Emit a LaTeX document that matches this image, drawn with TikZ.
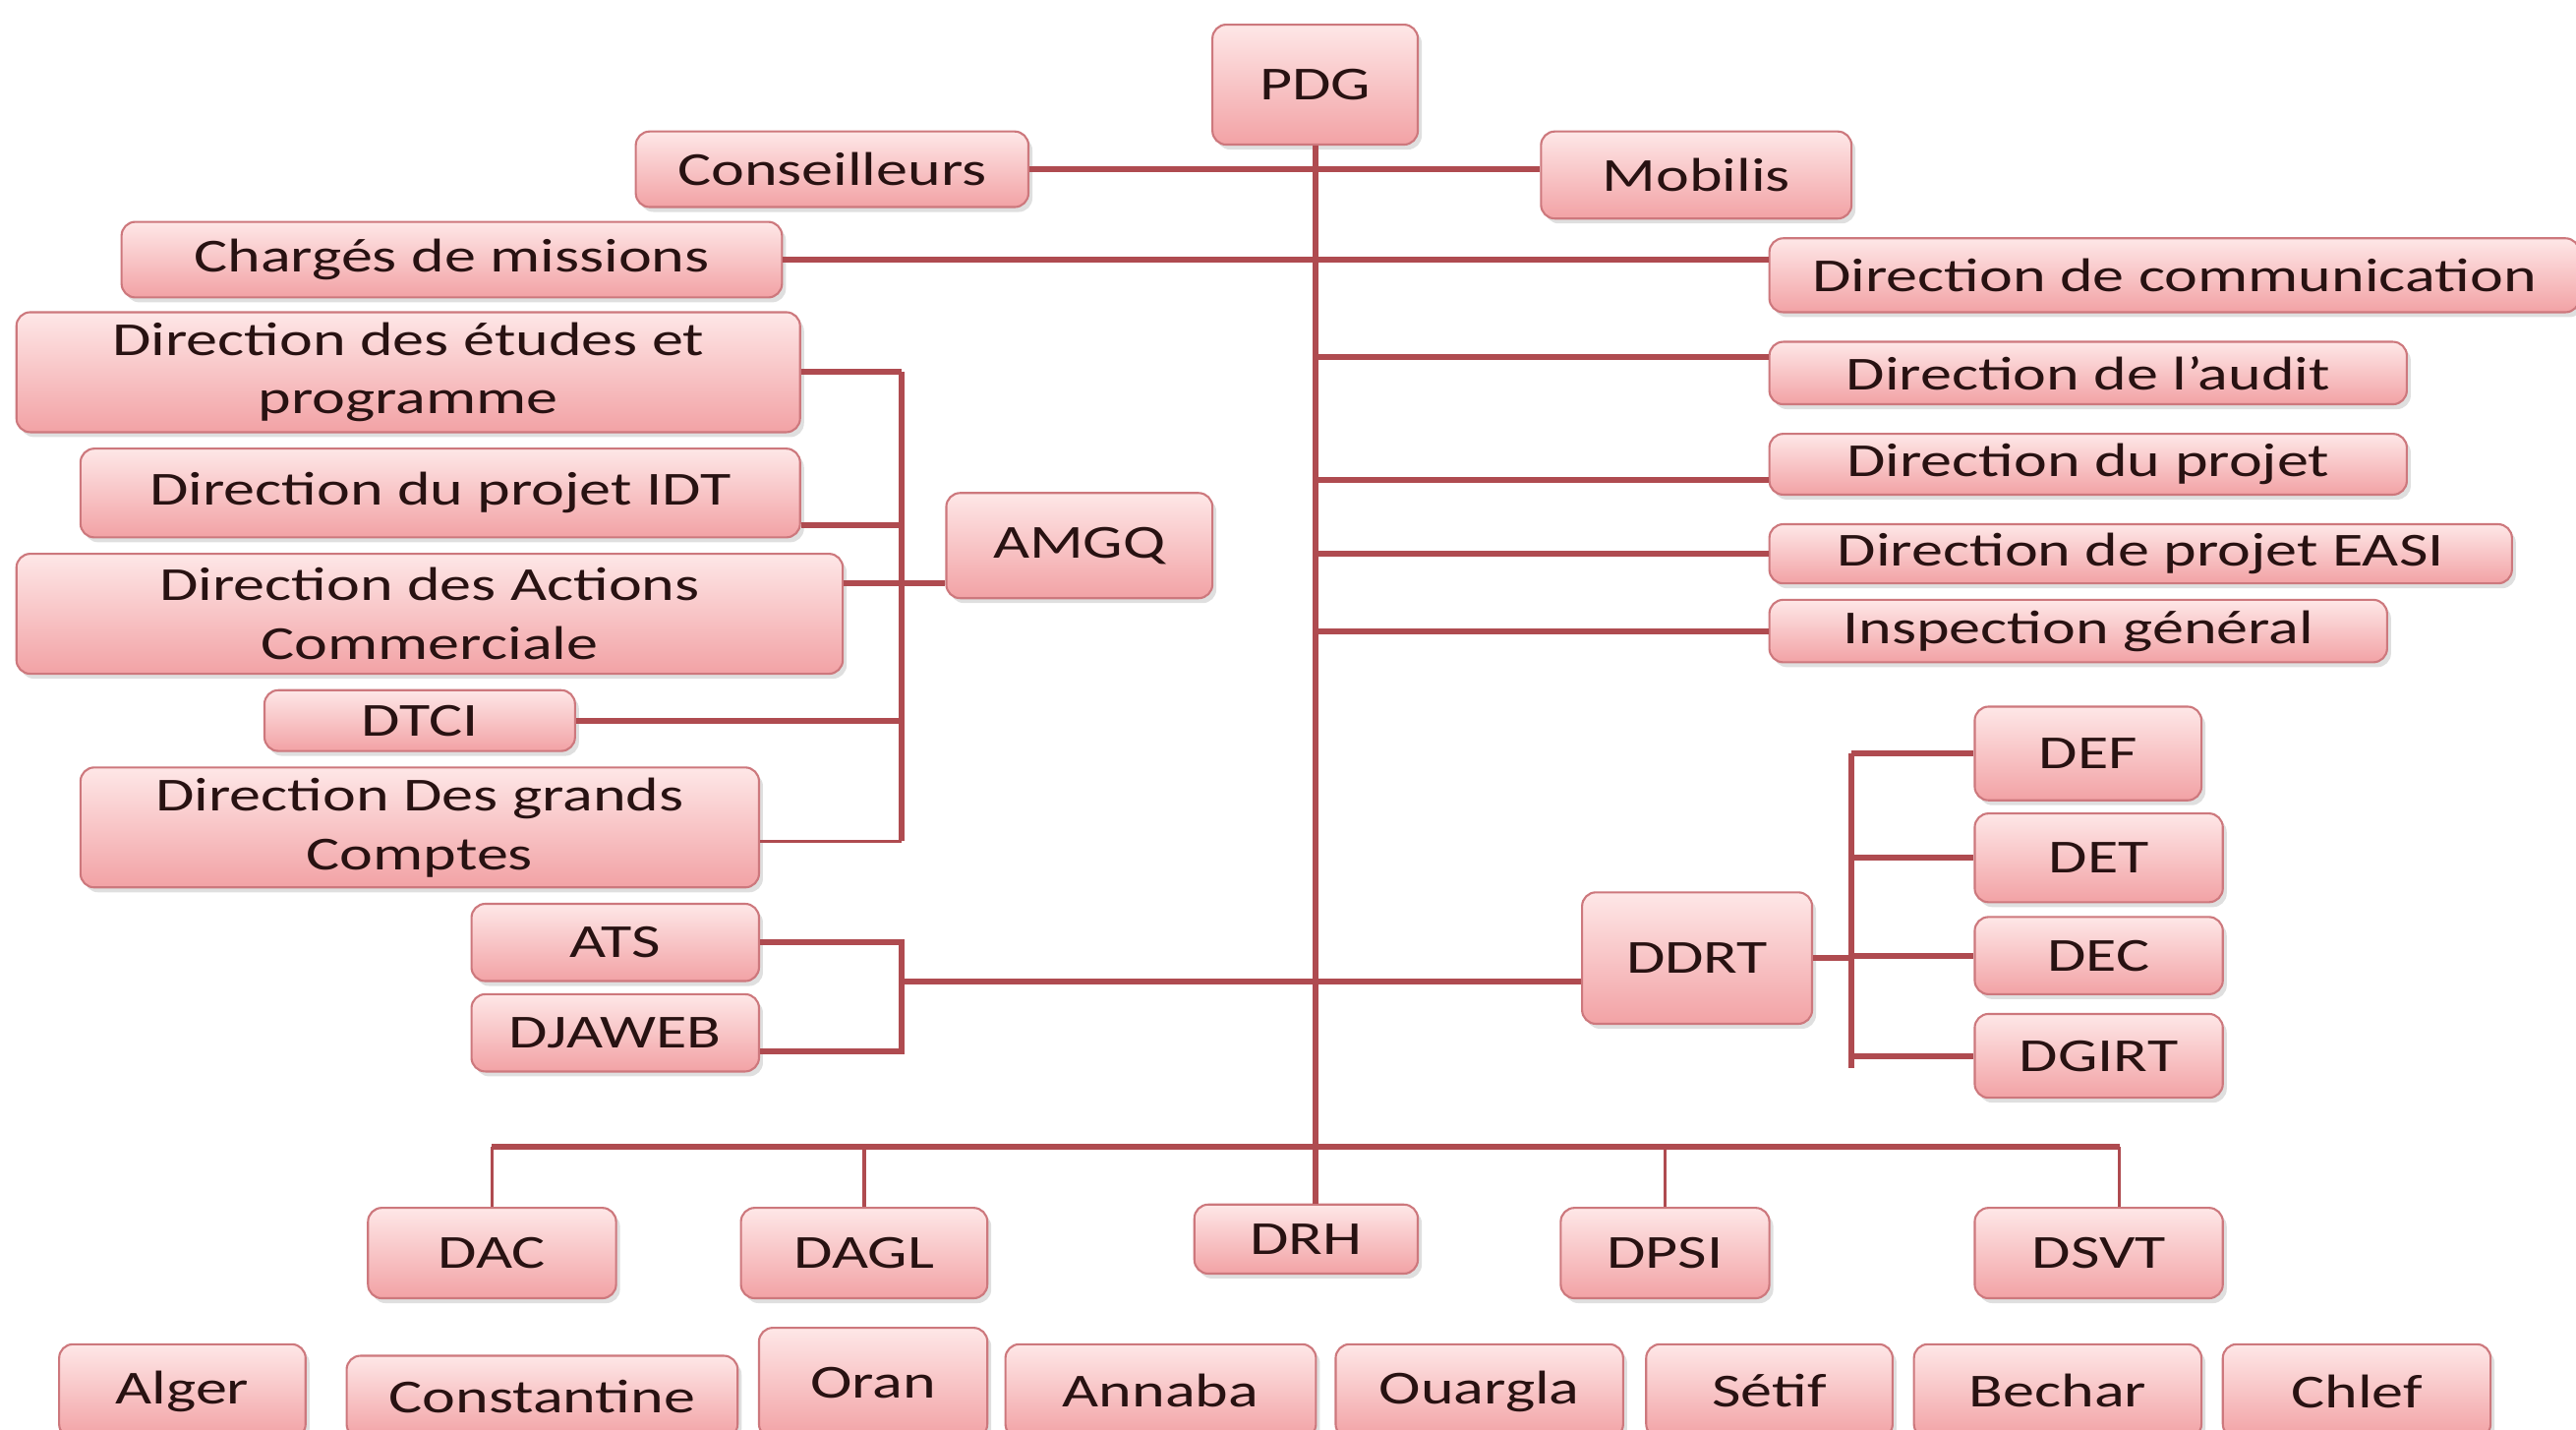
\documentclass[tikz,border=0pt]{standalone}
\usepackage{fontspec}
\setmainfont[FakeStretch=1.33]{Carlito}
\usetikzlibrary{shadows}
\definecolor{linkred}{RGB}{175,75,80}
\definecolor{boxedge}{RGB}{205,120,125}
\definecolor{boxtop}{RGB}{254,231,231}
\definecolor{boxbottom}{RGB}{242,162,165}
\definecolor{boxtext}{RGB}{40,18,18}

\tikzset{
  wh/.style 2 args={minimum width=#1*0.01671cm, minimum height=#2*0.01671cm},
  orgbox/.style={draw=boxedge, line width=0.6pt, rounded corners=4pt,
    top color=boxtop, bottom color=boxbottom, text=boxtext, inner sep=1pt,
    align=center, font=\fontsize{13.7}{17}\selectfont,
    drop shadow={opacity=0.25, shadow xshift=0.04cm, shadow yshift=-0.05cm}},
  link/.style={draw=linkred, line width=1.7pt},
  thinlink/.style={draw=linkred, line width=1pt}
}

\begin{document}
\begin{tikzpicture}[x=0.01671cm,y=-0.01671cm]
	\useasboundingbox (0,0) rectangle (1568,870);
	% top of the chart
	\node[orgbox,wh={125}{73}] (pdg) at (800.5,51.5) {PDG};
	\node[orgbox,wh={239}{46}] (cons) at (506.5,103) {Conseilleurs};
	\node[orgbox,wh={189}{53}] (mob) at (1032.5,106.5) {Mobilis};
	\node[orgbox,wh={402}{46}] (chg) at (275,158) {Chargés de missions};
	\node[orgbox,wh={493}{45}] (comm) at (1323.5,167.5) {Direction de communication};
	% right column
	\node[orgbox,wh={388}{38}] (audit) at (1271,227) {Direction de l’audit};
	\node[orgbox,wh={388}{37}] (proj) at (1271,282.5) {Direction du projet};
	\node[orgbox,wh={452}{36}] (easi) at (1303,337) {Direction de projet EASI};
	\node[orgbox,wh={376}{38}] (insp) at (1265,384) {Inspection général};
	% AMGQ group
	\node[orgbox,wh={477}{73}] (etud) at (248.5,226.5) {Direction des études et\\programme};
	\node[orgbox,wh={438}{54}] (idt) at (268,300) {Direction du projet IDT};
	\node[orgbox,wh={162}{64}] (amgq) at (657,332) {AMGQ};
	\node[orgbox,wh={503}{73}] (act) at (261.5,373.5) {Direction des Actions\\Commerciale};
	\node[orgbox,wh={189}{37}] (dtci) at (255.5,438.5) {DTCI};
	\node[orgbox,wh={413}{73}] (grc) at (255.5,503.5) {Direction Des grands\\Comptes};
	% ATS and DJAWEB
	\node[orgbox,wh={175}{47}] (ats) at (374.5,573.5) {ATS};
	\node[orgbox,wh={175}{47}] (djaweb) at (374.5,628.5) {DJAWEB};
	% DDRT group
	\node[orgbox,wh={140}{80}] (ddrt) at (1033,583) {DDRT};
	\node[orgbox,wh={138}{57}] (def) at (1271,458.5) {DEF};
	\node[orgbox,wh={151}{54}] (det) at (1277.5,522) {DET};
	\node[orgbox,wh={151}{47}] (dec) at (1277.5,581.5) {DEC};
	\node[orgbox,wh={151}{51}] (dgirt) at (1277.5,642.5) {DGIRT};
	% lower directions
	\node[orgbox,wh={151}{55}] (dac) at (299.5,762.5) {DAC};
	\node[orgbox,wh={150}{55}] (dagl) at (526,762.5) {DAGL};
	\node[orgbox,wh={136}{42}] (drh) at (795,754) {DRH};
	\node[orgbox,wh={127}{55}] (dpsi) at (1013.5,762.5) {DPSI};
	\node[orgbox,wh={151}{55}] (dsvt) at (1277.5,762.5) {DSVT};
	% regions (cut by the bottom edge)
	\node[orgbox,wh={150}{57}] (alger) at (111,846.5) {Alger};
	\node[orgbox,wh={238}{50}] (const) at (330,850) {Constantine};
	\node[orgbox,wh={139}{67}] (oran) at (531.5,841.5) {Oran};
	\node[orgbox,wh={189}{57}] (annaba) at (706.5,846.5) {Annaba};
	\node[orgbox,wh={175}{57}] (ouargla) at (900.5,846.5) {Ouargla};
	\node[orgbox,wh={150}{57}] (setif) at (1077,846.5) {Sétif};
	\node[orgbox,wh={175}{57}] (bechar) at (1252.5,846.5) {Bechar};
	\node[orgbox,wh={163}{57}] (chlef) at (1434.5,846.5) {Chlef};

	% bus coordinates
	\coordinate (busA) at (549,355);
	\coordinate (busB) at (549,597);
	\coordinate (busC) at (1127,583);
	\coordinate (busD) at (800,698);

	% trunk and its branches
	\draw[link] (pdg.south) -- (pdg.south |- drh.north);
	\draw[link] (cons.east) -- (cons.east -| mob.west);
	\draw[link] (chg.east) -- (chg.east -| comm.west);
	\draw[link] ([yshift=0.167cm]audit.west -| pdg.south) -- ([yshift=0.167cm]audit.west);
	\draw[link] ([yshift=-0.16cm]proj.west -| pdg.south) -- ([yshift=-0.16cm]proj.west);
	\draw[link] (easi.west -| pdg.south) -- (easi.west);
	\draw[link] (insp.west -| pdg.south) -- (insp.west);
	% AMGQ bus
	\draw[link] (etud.east -| busA) -- ([yshift=-0.14cm]grc.east -| busA);
	\draw[link] (etud.east) -- (etud.east -| busA);
	\draw[link] ([yshift=-0.33cm]idt.east) -- ([yshift=-0.33cm]idt.east -| busA);
	\draw[link] (act.east |- busA) -- (amgq.west |- busA);
	\draw[link] (dtci.east) -- (dtci.east -| busA);
	\draw[thinlink] ([yshift=-0.14cm]grc.east) -- ([yshift=-0.14cm]grc.east -| busA);
	% ATS / DJAWEB to DDRT
	\draw[link] (ats.east) -- (ats.east -| busB) -- ([yshift=-0.19cm]djaweb.east -| busB) -- ([yshift=-0.19cm]djaweb.east);
	\draw[link] (busB) -- (busB -| ddrt.west);
	% DDRT bus
	\draw[link] (ddrt.east) -- (busC);
	\draw[link] (def.west -| busC) -- ([yshift=-3.5pt]dgirt.west -| busC);
	\draw[link] (def.west -| busC) -- (def.west);
	\draw[link] (det.west -| busC) -- (det.west);
	\draw[link] (dec.west -| busC) -- (dec.west);
	\draw[link] (dgirt.west -| busC) -- (dgirt.west);
	% lower bus
	\draw[link] (dac.north |- busD) -- ([xshift=0.21cm]dsvt.north |- busD);
	\draw[thinlink] (dac.north |- busD) -- (dac.north);
	\draw[thinlink] (dagl.north |- busD) -- (dagl.north);
	\draw[thinlink] (dpsi.north |- busD) -- (dpsi.north);
	\draw[thinlink] ([xshift=0.21cm]dsvt.north |- busD) -- ([xshift=0.21cm]dsvt.north);
\end{tikzpicture}
\end{document}
